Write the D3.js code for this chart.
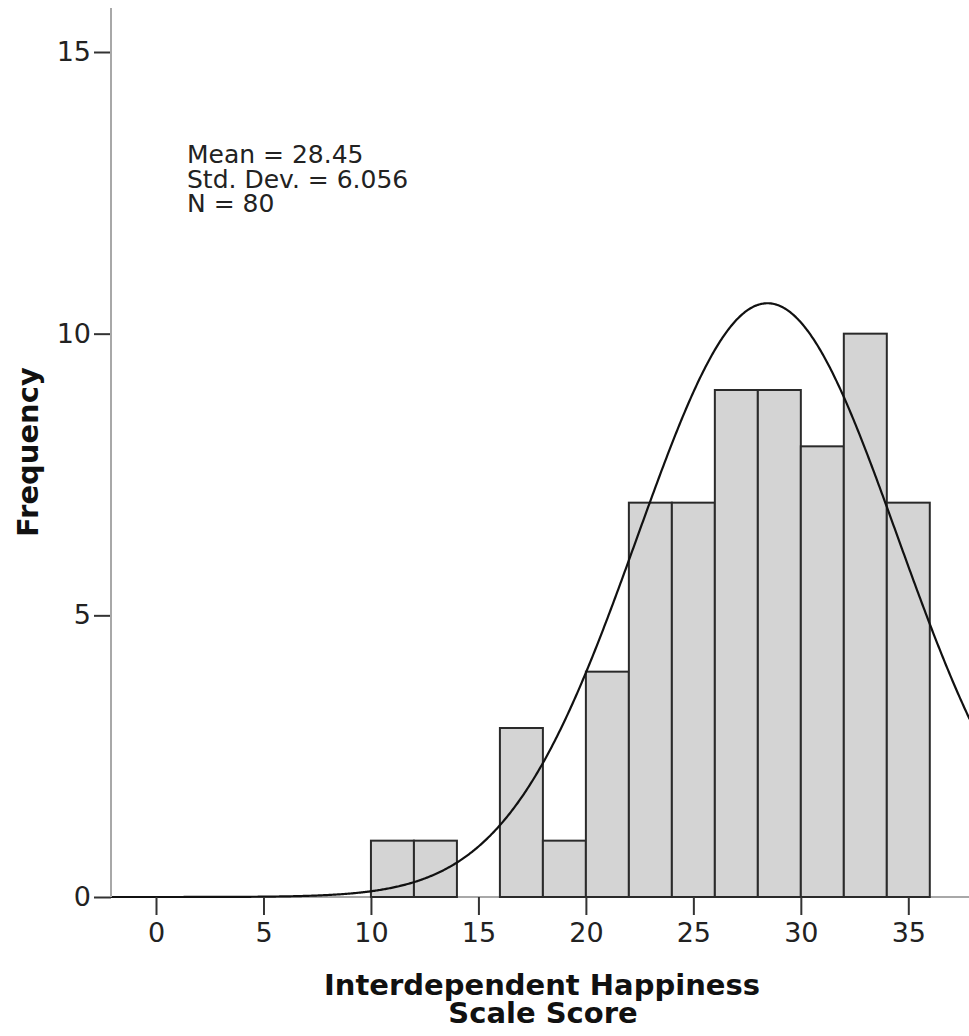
<!DOCTYPE html>
<html>
<head>
<meta charset="utf-8">
<script src="https://cdn.jsdelivr.net/npm/d3@7"></script>
<style>
  body { margin: 0; background: #fff; }
  svg { display: block; font-family: "DejaVu Sans", sans-serif; }
</style>
</head>
<body>
<div id="chart"></div>
<script>
const w = 969, h = 1036;

// histogram bins (width 2) and counts
const binStarts = [10, 12, 14, 16, 18, 20, 22, 24, 26, 28, 30, 32, 34];
const counts = [1, 1, 0, 3, 1, 4, 7, 7, 9, 9, 8, 10, 7];
const binWidth = 2;
const xTicks = [0, 5, 10, 15, 20, 25, 30, 35];
const yTicks = [0, 5, 10, 15];
const statLines = ["Mean = 28.45", "Std. Dev. = 6.056", "N = 80"];
const mean = 28.45, sd = 6.056, n = 80;

const svg = d3.select("#chart").append("svg").attr("width", w).attr("height", h);

const x = d3.scaleLinear().domain([0, 35]).range([156, 908.3]);
const y = d3.scaleLinear().domain([0, 15]).range([897, 52]);
const x0 = x.invert(111), x1 = x.invert(w);

// bars
svg.append("g")
  .selectAll("rect")
  .data(binStarts.map((s, i) => ({ s, c: counts[i] })).filter((d) => d.c > 0))
  .enter()
  .append("rect")
  .attr("x", (d) => x(d.s))
  .attr("y", (d) => y(d.c))
  .attr("width", (d) => x(d.s + binWidth) - x(d.s))
  .attr("height", (d) => y(0) - y(d.c))
  .attr("fill", "#d4d4d4")
  .attr("stroke", "#2a2a2a")
  .attr("stroke-width", 2);

// normal curve from the shown stats
const pts = d3.range(x0, x1 + 0.05, 0.05).map((v) => [
  v,
  (n * binWidth / (sd * Math.sqrt(2 * Math.PI))) * Math.exp(-0.5 * ((v - mean) / sd) ** 2),
]);
svg.append("path")
  .datum(pts)
  .attr("fill", "none")
  .attr("stroke", "#111")
  .attr("stroke-width", 2.2)
  .attr("d", d3.line().x((d) => x(d[0])).y((d) => y(d[1])));

// axes
const yAxis = svg.append("g")
  .attr("transform", "translate(111,0)")
  .call(d3.axisLeft(y).tickValues(yTicks).tickSize(17).tickPadding(3).tickSizeOuter(0));
yAxis.select(".domain").remove();
svg.append("line")
  .attr("x1", 111).attr("x2", 111)
  .attr("y1", 8).attr("y2", y(0))
  .attr("stroke", "#a8a8a8").attr("stroke-width", 2);

const xAxis = svg.append("g")
  .attr("transform", `translate(0,${y(0)})`)
  .call(d3.axisBottom(x).tickValues(xTicks).tickSize(18).tickPadding(8).tickSizeOuter(0));
xAxis.select(".domain").remove();
svg.append("line")
  .attr("x1", 111).attr("x2", w)
  .attr("y1", y(0)).attr("y2", y(0))
  .attr("stroke", "#a8a8a8").attr("stroke-width", 2)
  .lower();

svg.selectAll(".tick line").attr("stroke", "#333").attr("stroke-width", 2);
svg.selectAll(".tick text")
  .attr("fill", "#222")
  .style("font-family", "DejaVu Sans")
  .style("font-size", "27px");

// stats
svg.append("text")
  .attr("x", 187)
  .attr("y", 163)
  .attr("fill", "#222")
  .style("font-size", "25px")
  .selectAll("tspan")
  .data(statLines)
  .enter()
  .append("tspan")
  .attr("x", 187)
  .attr("dy", (d, i) => (i === 0 ? 0 : 24.5))
  .text((d) => d);

// titles
svg.append("text")
  .attr("x", 542)
  .attr("y", 995)
  .attr("text-anchor", "middle")
  .attr("fill", "#111")
  .style("font-size", "29px")
  .style("font-weight", "bold")
  .text("Interdependent Happiness");
svg.append("text")
  .attr("x", 543)
  .attr("y", 1023)
  .attr("text-anchor", "middle")
  .attr("fill", "#111")
  .style("font-size", "29px")
  .style("font-weight", "bold")
  .text("Scale Score");
svg.append("text")
  .attr("transform", "translate(38,452) rotate(-90)")
  .attr("text-anchor", "middle")
  .attr("fill", "#111")
  .style("font-size", "29px")
  .style("font-weight", "bold")
  .text("Frequency");
</script>
</body>
</html>
